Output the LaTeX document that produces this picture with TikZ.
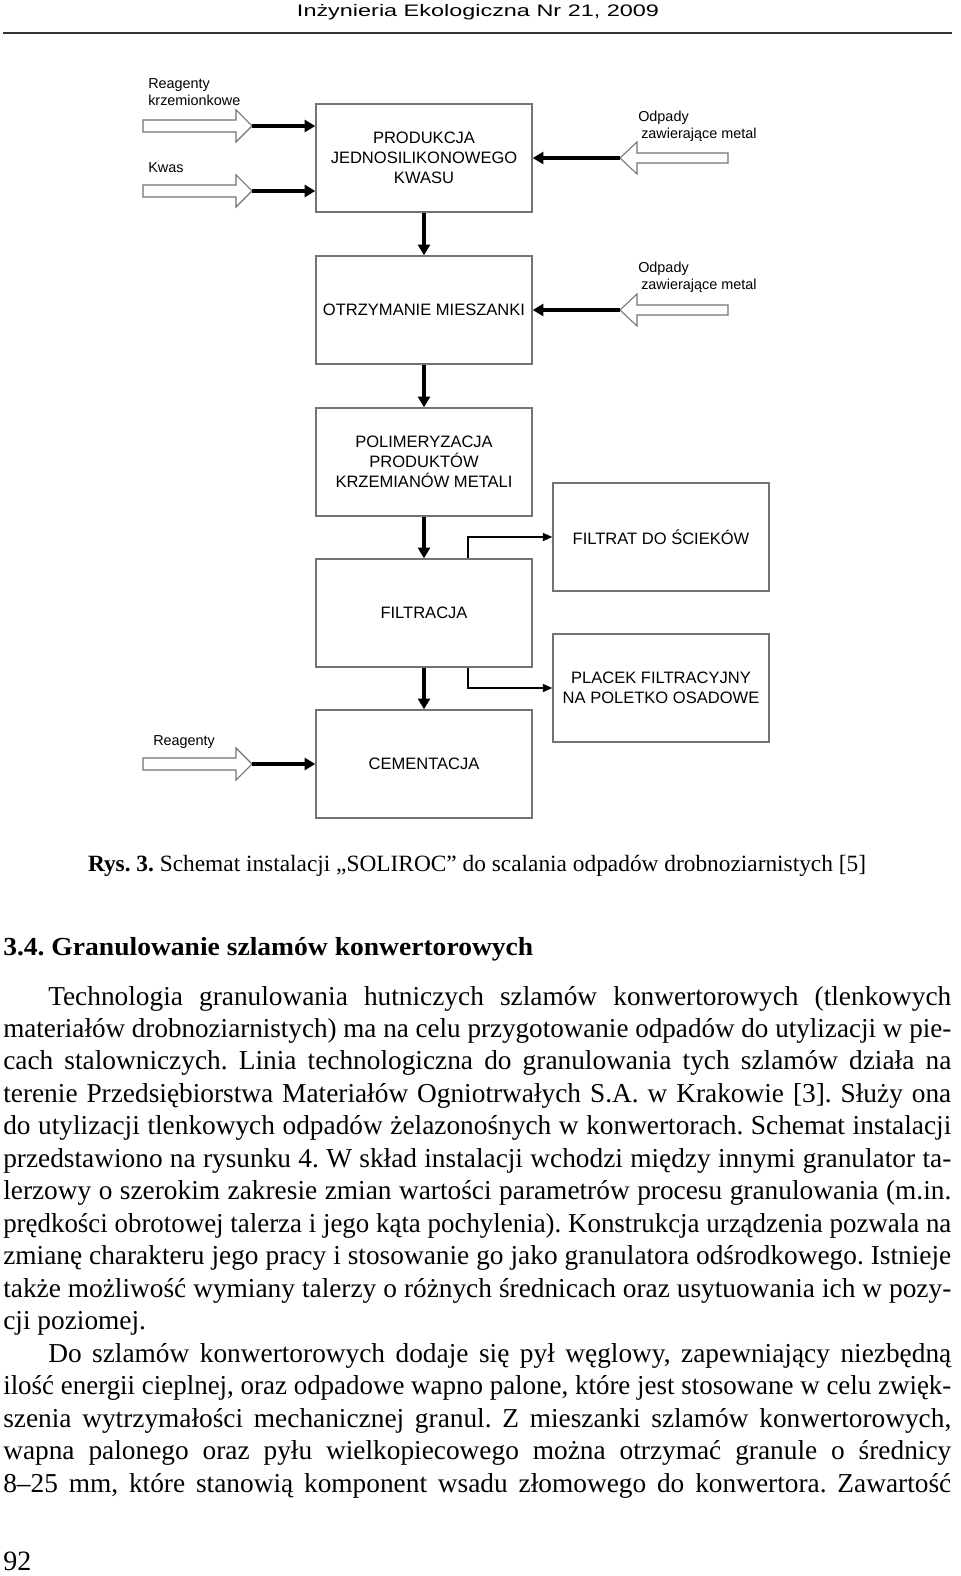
\documentclass[tikz,border=0pt]{standalone}
\usepackage{fontspec}
\setmainfont{Liberation Serif}
\setsansfont{Liberation Sans}
\usepackage{graphicx}
\usetikzlibrary{arrows.meta,calc}
\newsavebox\jlbox
\newcommand\jline[2]{\sbox\jlbox{#2}\ifdim\wd\jlbox>#1\relax\resizebox{#1}{\height}{\usebox\jlbox}\else\makebox[#1][s]{#2}\fi}
\frenchspacing
\begin{document}
\begin{tikzpicture}[x=0.75pt,y=-0.75pt,
  procbox/.style={draw=black!55,line width=1.1pt,minimum width=162pt,minimum height=81pt,inner sep=0pt,
     align=center,font=\fontsize{12.4pt}{15pt}\sffamily},
  lbl/.style={anchor=base west,inner sep=0pt,font=\fontsize{10.8pt}{12pt}\sffamily},
  hollow/.style={draw=black!55,fill=white,line width=0.8pt,line join=miter},
  thickarr/.style={line width=2.3pt,-{Triangle[length=8pt,width=9pt]}},
  thinarr/.style={line width=1.1pt,-{Triangle[length=7pt,width=6pt]}},
  bodyline/.style={anchor=base west,inner sep=0pt,font=\fontsize{20.5pt}{24pt}\selectfont},
]
\useasboundingbox (0,0) rectangle (960,1576);
\fill[white] (0,0) rectangle (960,1576);

% header
\node[anchor=base,inner sep=0pt] (hdr) at (478,17) {\resizebox{271.5pt}{\height}{\fontsize{12.5pt}{15pt}\sffamily Inżynieria Ekologiczna Nr 21, 2009}};
\coordinate (rl) at (3,33);
\coordinate (rr) at (952,33);
\draw[line width=1.5pt,black!80] (rl) -- (rr);

% process boxes
\node[procbox] (b1) at (424,158) {PRODUKCJA\\JEDNOSILIKONOWEGO\\KWASU};
\node[procbox] (b2) at (424,310) {OTRZYMANIE MIESZANKI};
\node[procbox] (b3) at (424,462) {POLIMERYZACJA\\PRODUKTÓW\\KRZEMIANÓW METALI};
\node[procbox] (b4) at (424,613) {FILTRACJA};
\node[procbox] (b5) at (424,764) {CEMENTACJA};
\node[procbox] (f1) at (661,537) {FILTRAT DO ŚCIEKÓW};
\node[procbox] (f2) at (661,688) {PLACEK FILTRACYJNY\\NA POLETKO OSADOWE};

% vertical flow
\draw[thickarr] (b1.south) -- (b2.north);
\draw[thickarr] (b2.south) -- (b3.north);
\draw[thickarr] (b3.south) -- (b4.north);
\draw[thickarr] (b4.south) -- (b5.north);
\draw[thinarr] ([xshift=33pt]b4.north) |- (f1.west);
\draw[thinarr] ([xshift=33pt]b4.south) |- (f2.west);

% left hollow arrows
\coordinate (t1) at (252,126);
\draw[hollow] (143,120) -- (236,120) -- (236,110) -- (t1) -- (236,142) -- (236,132) -- (143,132) -- cycle;
\draw[thickarr] (t1) -- (t1 -| b1.west);
\coordinate (t2) at (252,191);
\draw[hollow] (143,185) -- (236,185) -- (236,175) -- (t2) -- (236,207) -- (236,197) -- (143,197) -- cycle;
\draw[thickarr] (t2) -- (t2 -| b1.west);
\coordinate (t5) at (252,764);
\draw[hollow] (143,758) -- (236,758) -- (236,748) -- (t5) -- (236,780) -- (236,770) -- (143,770) -- cycle;
\draw[thickarr] (t5) -- (t5 -| b5.west);

% right hollow arrows
\coordinate (r1) at (620,158);
\draw[hollow] (728,153) -- (637,153) -- (637,142) -- (r1) -- (637,174) -- (637,163) -- (728,163) -- cycle;
\draw[thickarr] (r1) -- (r1 -| b1.east);
\coordinate (r2) at (620,310);
\draw[hollow] (728,305) -- (637,305) -- (637,294) -- (r2) -- (637,326) -- (637,315) -- (728,315) -- cycle;
\draw[thickarr] (r2) -- (r2 -| b2.east);

% labels
\node[lbl] (la) at (148,89) {Reagenty};
\node[lbl] (lb) at (148,106) {krzemionkowe};
\node[lbl] (lc) at (148,173) {Kwas};
\node[lbl] (ld) at (638,122) {Odpady};
\node[lbl] (le) at (641,139) {zawierające metal};
\node[lbl] (lf) at (638,273) {Odpady};
\node[lbl] (lg) at (641,290) {zawierające metal};
\node[lbl] (lh) at (153,745) {Reagenty};

% caption
\node[anchor=base,inner sep=0pt] (cap) at (477,871) {\resizebox{583.5pt}{\height}{\fontsize{17.5pt}{20pt}\selectfont\textbf{Rys. 3.} Schemat instalacji „SOLIROC” do scalania odpadów drobnoziarnistych [5]}};

% heading
\node[anchor=base west,inner sep=0pt] (hd) at (3,955) {\resizebox{397.5pt}{\height}{\fontsize{19.5pt}{22pt}\selectfont\bfseries 3.4. Granulowanie szlamów konwertorowych}};

% body
\node[bodyline] (l1) at (48,1005) {\jline{677.25pt}{Technologia granulowania hutniczych szlamów konwertorowych (tlenkowych}};
\node[bodyline] (l2) at (3,1037.5) {\jline{711pt}{materiałów drobnoziarnistych) ma na celu przygotowanie odpadów do utylizacji w pie-}};
\node[bodyline] (l3) at (3,1069.9) {\jline{711pt}{cach stalowniczych. Linia technologiczna do granulowania tych szlamów działa na}};
\node[bodyline] (l4) at (3,1102.4) {\jline{711pt}{terenie Przedsiębiorstwa Materiałów Ogniotrwałych S.A. w Krakowie [3]. Służy ona}};
\node[bodyline] (l5) at (3,1134.9) {\jline{711pt}{do utylizacji tlenkowych odpadów żelazonośnych w konwertorach. Schemat instalacji}};
\node[bodyline] (l6) at (3,1167.4) {\jline{711pt}{przedstawiono na rysunku 4. W skład instalacji wchodzi między innymi granulator ta-}};
\node[bodyline] (l7) at (3,1199.8) {\jline{711pt}{lerzowy o szerokim zakresie zmian wartości parametrów procesu granulowania (m.in.}};
\node[bodyline] (l8) at (3,1232.3) {\jline{711pt}{prędkości obrotowej talerza i jego kąta pochylenia). Konstrukcja urządzenia pozwala na}};
\node[bodyline] (l9) at (3,1264.8) {\jline{711pt}{zmianę charakteru jego pracy i stosowanie go jako granulatora odśrodkowego. Istnieje}};
\node[bodyline] (l10) at (3,1297.2) {\jline{711pt}{także możliwość wymiany talerzy o różnych średnicach oraz usytuowania ich w pozy-}};
\node[bodyline] (l11) at (3,1329.7) {cji poziomej.};
\node[bodyline] (l12) at (48,1362.2) {\jline{677.25pt}{Do szlamów konwertorowych dodaje się pył węglowy, zapewniający niezbędną}};
\node[bodyline] (l13) at (3,1394.6) {\jline{711pt}{ilość energii cieplnej, oraz odpadowe wapno palone, które jest stosowane w celu zwięk-}};
\node[bodyline] (l14) at (3,1427.1) {\jline{711pt}{szenia wytrzymałości mechanicznej granul. Z mieszanki szlamów konwertorowych,}};
\node[bodyline] (l15) at (3,1459.6) {\jline{711pt}{wapna palonego oraz pyłu wielkopiecowego można otrzymać granule o średnicy}};
\node[bodyline] (l16) at (3,1492) {\jline{711pt}{8–25 mm, które stanowią komponent wsadu złomowego do konwertora. Zawartość}};

% page number
\node[anchor=base west,inner sep=0pt,font=\fontsize{21pt}{24pt}\selectfont] (pg) at (3,1570) {92};
\end{tikzpicture}
\end{document}
